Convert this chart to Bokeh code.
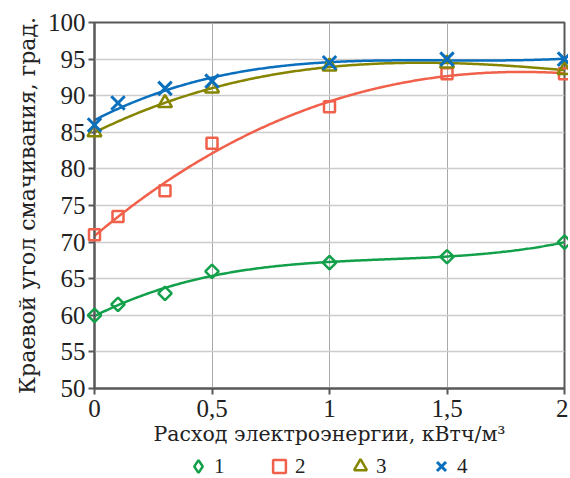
import numpy as np
from bokeh.plotting import figure
from bokeh.layouts import column
from bokeh.models import Legend, LegendItem, FixedTicker, Range1d
from bokeh.embed import file_html
from bokeh.resources import INLINE

# ---- data ----
x_all = [0, 0.1, 0.3, 0.5, 1, 1.5, 2]
s1 = [60, 61.5, 63, 66, 67.2, 68, 70]
s2 = [71, 73.5, 77, 83.5, 88.5, 93, 93]
x3 = [0, 0.3, 0.5, 1, 1.5, 2]
s3 = [85, 89, 91, 94, 94.4, 93.5]
s4 = [86, 89, 91, 92, 94.5, 95, 95]
x_ticks = [0, 0.5, 1, 1.5, 2]
x_tick_labels = ["0", "0,5", "1", "1,5", "2"]
y_ticks = [50, 55, 60, 65, 70, 75, 80, 85, 90, 95, 100]
series_names = ["1", "2", "3", "4"]

C1, C2, C3, C4 = "#12a04a", "#f0604a", "#858500", "#0a70bd"
AX = "#595959"
TICK_FONT = "Liberation Serif"
TITLE_FONT = "DejaVu Serif"
W = 568

p = figure(width=W, height=448, x_range=Range1d(0, 2), y_range=Range1d(50, 100),
           output_backend="svg", toolbar_location=None,
           min_border_left=94, min_border_right=4, min_border_top=22, min_border_bottom=56)
p.background_fill_color = "white"
p.border_fill_color = "white"
p.outline_line_color = AX
p.outline_line_width = 2

# grids
p.xgrid.grid_line_color = "#aaaaaa"
p.xgrid.grid_line_width = 1
p.ygrid.grid_line_color = "#cccccc"
p.ygrid.grid_line_width = 1.5

# axes
p.xaxis.ticker = FixedTicker(ticks=x_ticks)
p.xaxis.major_label_overrides = {t: l for t, l in zip(x_ticks, x_tick_labels)}
p.yaxis.ticker = FixedTicker(ticks=y_ticks)
for ax in (p.xaxis[0], p.yaxis[0]):
    ax.axis_line_color = AX
    ax.axis_line_width = 2
    ax.major_tick_line_color = AX
    ax.major_tick_line_width = 2
    ax.major_tick_out = 6
    ax.major_tick_in = 0
    ax.minor_tick_line_color = None
    ax.major_label_text_font = TICK_FONT
    ax.major_label_text_font_size = "25px"
    ax.major_label_text_color = "#222222"
    ax.axis_label_text_font = TITLE_FONT
    ax.axis_label_text_font_style = "normal"
    ax.axis_label_text_color = "#222222"
p.xaxis.axis_label = "Расход электроэнергии, кВтч/м³"
p.yaxis.axis_label = "Краевой угол смачивания, град."
p.xaxis.axis_label_text_font_size = "20.5px"
p.yaxis.axis_label_text_font_size = "22px"
p.xaxis.major_label_standoff = 5
p.xaxis.axis_label_standoff = 2
p.yaxis.major_label_standoff = 3
p.yaxis.axis_label_standoff = 5

xs = np.linspace(0, 2, 300)

def trend(xv, yv):
    c = np.polyfit(xv, yv, 3)
    return np.polyval(c, xs)

# trend lines
p.line(xs, trend(x_all, s1), line_color=C1, line_width=2.5)
p.line(xs, trend(x_all, s2), line_color=C2, line_width=2.5)
p.line(xs, trend(x3, s3), line_color=C3, line_width=2.5)
p.line(xs, trend(x_all, s4), line_color=C4, line_width=2.5)

# markers (overlay level so they are not cut at the frame edge)
p.scatter(x_all, s1, marker="square", angle=np.pi / 4, size=9.5,
          fill_color=None, line_color=C1, line_width=2.5, level="overlay")
p.scatter(x_all, s2, marker="square", size=11,
          fill_color=None, line_color=C2, line_width=2.5, level="overlay")
p.scatter(x3, s3, marker="triangle", size=14,
          fill_color=None, line_color=C3, line_width=2.5, level="overlay")
p.scatter(x_all, s4, marker="x", size=19,
          line_color=C4, line_width=3, level="overlay")

# ---- legend strip below the plot (proxy glyphs sit outside its range) ----
q = figure(width=W, height=29, x_range=Range1d(0, 1), y_range=Range1d(0, 1),
           output_backend="svg", toolbar_location=None, min_border=0)
q.axis.visible = False
q.grid.visible = False
q.outline_line_color = None
q.border_fill_color = "white"
off = [-5]
l1 = q.scatter(off, off, marker="diamond", size=12, fill_color=None, line_color=C1, line_width=2.5)
l2 = q.scatter(off, off, marker="square", size=10, fill_color=None, line_color=C2, line_width=2.5)
l3 = q.scatter(off, off, marker="triangle", size=10, fill_color=None, line_color=C3, line_width=2.5)
l4 = q.scatter(off, off, marker="x", size=10, line_color=C4, line_width=3)

legend = Legend(items=[LegendItem(label=n, renderers=[r]) for n, r in zip(series_names, [l1, l2, l3, l4])],
                orientation="horizontal", location=(88, -5),
                label_text_font=TICK_FONT, label_text_font_size="21px", label_text_color="#222222",
                glyph_width=32, glyph_height=32, label_standoff=0, label_width=11, spacing=38,
                label_height=32, padding=0, margin=0, border_line_color=None, background_fill_alpha=0)
q.add_layout(legend, "center")

layout = column(p, q, spacing=0)
open("out.html", "w").write(file_html(layout, INLINE))
